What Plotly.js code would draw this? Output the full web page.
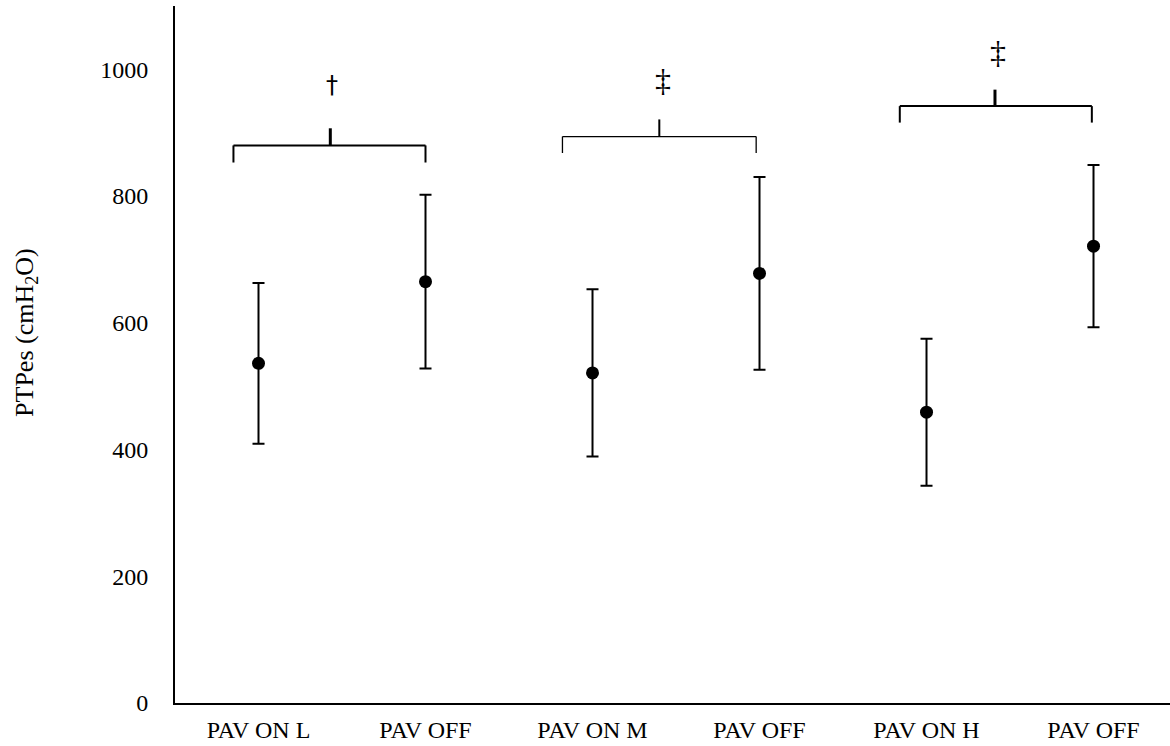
<!DOCTYPE html>
<html>
<head>
<meta charset="utf-8">
<script src="https://cdn.plot.ly/plotly-3.0.1.min.js"></script>
<style>html,body{margin:0;padding:0;background:#fff;}#chart{width:1170px;height:746px;}</style>
</head>
<body>
<div id="chart"></div>
<script>
// ---- data ----
const categories = ["PAV ON L", "PAV OFF", "PAV ON M", "PAV OFF", "PAV ON H", "PAV OFF"];
const means = [536, 665, 521, 678, 459, 721];
const errors = [127, 137, 132, 152, 116, 128];
const yTickVals = [0, 200, 400, 600, 800, 1000];
const yTickText = ["0", "200", "400", "600", "800", "1000"];

// significance brackets (data units)
const sigSymbols = ["\u2020", "\u2021", "\u2021"];
const bracketLeft = [-0.15, 1.82, 3.84];
const bracketRight = [1.0, 2.98, 4.99];
const bracketTop = [880, 894, 942];
const bracketLegBottom = [853, 868, 916];
const bracketTickX = [0.43, 2.40, 4.41];
const bracketTickTop = [907, 921, 968];
const symbolX = [0.44, 2.42, 4.43];
const symbolY = [975, 983, 1027];

// ---- build ----
const xIdx = categories.map((c, i) => i);
const serif = "Liberation Serif, Times New Roman, serif";

const trace = {
  type: "scatter",
  mode: "markers",
  x: xIdx,
  y: means,
  marker: {color: "#000", size: 13},
  error_y: {type: "data", array: errors, visible: true, color: "#000", thickness: 2, width: 6},
  hoverinfo: "skip"
};

const lineW = [2, 1.3, 2];
const tickW = [3, 2, 3];
const shapes = [];
sigSymbols.forEach((s, i) => {
  const st = {color: "#000", width: lineW[i]};
  shapes.push({type: "line", xref: "x", yref: "y", x0: bracketLeft[i], x1: bracketRight[i], y0: bracketTop[i], y1: bracketTop[i], line: st});
  shapes.push({type: "line", xref: "x", yref: "y", x0: bracketLeft[i], x1: bracketLeft[i], y0: bracketTop[i], y1: bracketLegBottom[i], line: st});
  shapes.push({type: "line", xref: "x", yref: "y", x0: bracketRight[i], x1: bracketRight[i], y0: bracketTop[i], y1: bracketLegBottom[i], line: st});
  shapes.push({type: "line", xref: "x", yref: "y", x0: bracketTickX[i], x1: bracketTickX[i], y0: bracketTop[i], y1: bracketTickTop[i], line: {color: "#000", width: tickW[i]}});
});

const annotations = sigSymbols.map((s, i) => ({
  xref: "x", yref: "y", x: symbolX[i], y: symbolY[i], text: s, showarrow: false,
  font: {family: i === 0 ? "DejaVu Sans, Liberation Sans, sans-serif" : serif, size: i === 0 ? 24 : 32, color: "#000"},
  xanchor: "center", yanchor: "middle"
}));
annotations.push({
  xref: "paper", yref: "paper", x: -0.15, y: 0.532, textangle: -90,
  text: "PTPes (cmH<sub>2</sub>O)", showarrow: false,
  font: {family: serif, size: 26, color: "#000"}, xanchor: "center", yanchor: "middle"
});

const layout = {
  width: 1170, height: 746,
  margin: {l: 175, r: 0, t: 6, b: 43},
  paper_bgcolor: "#fff", plot_bgcolor: "#fff",
  showlegend: false,
  font: {family: serif, size: 24, color: "#000"},
  xaxis: {
    range: [-0.5, 5.458], tickvals: xIdx, ticktext: categories,
    showgrid: false, zeroline: false, showline: true, linecolor: "#000", linewidth: 2,
    ticks: "", ticklabelstandoff: 4, tickfont: {family: serif, size: 24, color: "#000"}
  },
  yaxis: {
    range: [0, 1100], tickvals: yTickVals, ticktext: yTickText,
    showgrid: false, zeroline: false, showline: true, linecolor: "#000", linewidth: 2,
    ticks: "", ticklabelstandoff: 20, tickfont: {family: serif, size: 24, color: "#000"}
  },
  shapes: shapes,
  annotations: annotations
};

Plotly.newPlot("chart", [trace], layout, {displayModeBar: false, staticPlot: true});
</script>
</body>
</html>
